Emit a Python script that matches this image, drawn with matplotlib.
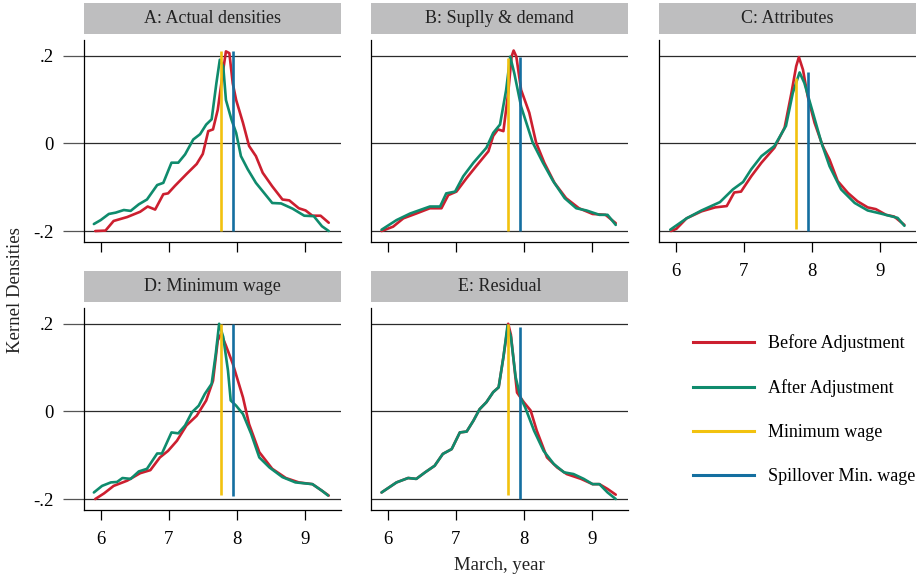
import matplotlib
matplotlib.use("Agg")
import matplotlib.pyplot as plt
from matplotlib.lines import Line2D

plt.rcParams["font.family"] = ["Liberation Serif", "DejaVu Serif"]

# panel titles
titles = ["A: Actual densities", "B: Suplly & demand", "C: Attributes",
          "D: Minimum wage", "E: Residual"]

# A: actual densities
a_before_x = [5.92, 6.07, 6.19, 6.39, 6.58, 6.69, 6.80, 6.92, 6.99, 7.09, 7.26, 7.41, 7.50,
              7.58, 7.65, 7.72, 7.80, 7.84, 7.89, 7.94, 7.99, 8.09, 8.18, 8.28, 8.38, 8.52,
              8.67, 8.77, 8.91, 9.01, 9.11, 9.23, 9.35]
a_before_y = [-0.200, -0.199, -0.177, -0.168, -0.156, -0.144, -0.151, -0.116, -0.114, -0.097,
              -0.070, -0.047, -0.024, 0.028, 0.032, 0.077, 0.168, 0.210, 0.206, 0.137, 0.099,
              0.047, -0.006, -0.029, -0.067, -0.098, -0.128, -0.130, -0.148, -0.153, -0.165,
              -0.165, -0.181]
a_after_x = [5.90, 6.00, 6.12, 6.22, 6.34, 6.44, 6.56, 6.68, 6.83, 6.92, 7.04, 7.14, 7.24,
             7.36, 7.46, 7.55, 7.63, 7.70, 7.75, 7.80, 7.84, 7.92, 7.99, 8.06, 8.16, 8.28,
             8.40, 8.52, 8.65, 8.82, 8.99, 9.13, 9.25, 9.35]
a_after_y = [-0.184, -0.175, -0.161, -0.158, -0.152, -0.154, -0.139, -0.128, -0.095, -0.090,
             -0.044, -0.044, -0.025, 0.009, 0.021, 0.043, 0.055, 0.138, 0.191, 0.176, 0.099,
             0.055, 0.024, -0.029, -0.059, -0.090, -0.113, -0.136, -0.137, -0.149, -0.165,
             -0.166, -0.189, -0.200]

# B: supply & demand
b_before_x = [5.91, 6.08, 6.23, 6.42, 6.62, 6.79, 6.89, 7.01, 7.16, 7.30, 7.48, 7.55, 7.62,
              7.70, 7.77, 7.82, 7.85, 7.89, 7.96, 8.08, 8.18, 8.30, 8.45, 8.62, 8.81, 9.01,
              9.20, 9.35]
b_before_y = [-0.200, -0.190, -0.171, -0.160, -0.148, -0.148, -0.118, -0.110, -0.079, -0.052,
              -0.018, 0.017, 0.032, 0.028, 0.115, 0.198, 0.212, 0.198, 0.122, 0.070, 0.002,
              -0.044, -0.090, -0.125, -0.148, -0.161, -0.163, -0.182]
b_after_x = [5.91, 6.13, 6.33, 6.62, 6.77, 6.86, 6.99, 7.11, 7.26, 7.45, 7.55, 7.65, 7.74,
             7.80, 7.86, 7.96, 8.13, 8.28, 8.43, 8.60, 8.77, 8.92, 9.11, 9.23, 9.35]
b_after_y = [-0.197, -0.175, -0.160, -0.144, -0.144, -0.114, -0.110, -0.075, -0.044, -0.010,
             0.024, 0.043, 0.122, 0.198, 0.160, 0.084, 0.002, -0.044, -0.086, -0.125, -0.148,
             -0.153, -0.163, -0.163, -0.186]

# C: attributes
c_before_x = [5.93, 6.01, 6.16, 6.38, 6.58, 6.75, 6.86, 6.96, 7.11, 7.26, 7.45, 7.60, 7.70,
              7.77, 7.81, 7.87, 7.94, 8.04, 8.16, 8.26, 8.38, 8.53, 8.67, 8.82, 8.94, 9.09,
              9.21, 9.36]
c_before_y = [-0.200, -0.195, -0.171, -0.155, -0.146, -0.143, -0.112, -0.110, -0.075, -0.044,
              -0.010, 0.036, 0.115, 0.176, 0.197, 0.168, 0.107, 0.047, -0.006, -0.037, -0.086,
              -0.113, -0.132, -0.146, -0.150, -0.163, -0.167, -0.186]
c_after_x = [5.92, 6.16, 6.38, 6.65, 6.84, 6.99, 7.11, 7.26, 7.45, 7.62, 7.72, 7.82, 7.89,
             7.99, 8.14, 8.26, 8.43, 8.63, 8.82, 9.01, 9.16, 9.26, 9.36]
c_after_y = [-0.197, -0.171, -0.153, -0.134, -0.105, -0.088, -0.059, -0.029, -0.006, 0.040,
             0.115, 0.162, 0.138, 0.084, 0.002, -0.052, -0.105, -0.136, -0.153, -0.160,
             -0.166, -0.170, -0.188]

# D: minimum wage
d_before_x = [5.92, 6.05, 6.19, 6.39, 6.58, 6.73, 6.87, 6.99, 7.12, 7.26, 7.41, 7.55, 7.65,
              7.72, 7.77, 7.84, 7.94, 8.09, 8.18, 8.33, 8.52, 8.72, 8.91, 9.11, 9.25, 9.35]
d_before_y = [-0.200, -0.187, -0.170, -0.158, -0.141, -0.134, -0.105, -0.090, -0.067, -0.032,
              -0.010, 0.025, 0.070, 0.162, 0.177, 0.150, 0.109, 0.032, -0.029, -0.093, -0.131,
              -0.152, -0.162, -0.166, -0.181, -0.192]
d_after_x = [5.90, 6.02, 6.15, 6.24, 6.32, 6.44, 6.56, 6.68, 6.83, 6.90, 7.04, 7.14, 7.24,
             7.34, 7.44, 7.53, 7.63, 7.69, 7.74, 7.80, 7.87, 7.91, 7.99, 8.09, 8.21, 8.33,
             8.48, 8.67, 8.86, 9.11, 9.25, 9.34]
d_after_y = [-0.185, -0.170, -0.162, -0.161, -0.152, -0.154, -0.137, -0.131, -0.096, -0.096,
             -0.048, -0.050, -0.032, -0.002, 0.013, 0.040, 0.063, 0.131, 0.200, 0.170, 0.093,
             0.025, 0.013, -0.006, -0.051, -0.105, -0.128, -0.150, -0.162, -0.166, -0.181,
             -0.192]

# E: residual
e_before_x = [5.91, 6.13, 6.30, 6.42, 6.55, 6.69, 6.81, 6.94, 7.06, 7.16, 7.26, 7.35, 7.45,
              7.55, 7.63, 7.70, 7.77, 7.81, 7.90, 8.00, 8.10, 8.19, 8.34, 8.49, 8.63, 8.84,
              9.01, 9.11, 9.23, 9.35]
e_before_y = [-0.185, -0.162, -0.152, -0.154, -0.139, -0.124, -0.097, -0.086, -0.048, -0.046,
              -0.021, 0.005, 0.021, 0.044, 0.055, 0.124, 0.200, 0.175, 0.043, 0.021, 0.002,
              -0.044, -0.105, -0.128, -0.143, -0.154, -0.166, -0.166, -0.177, -0.190]
e_after_x = [5.91, 6.13, 6.30, 6.42, 6.55, 6.69, 6.81, 6.94, 7.06, 7.16, 7.26, 7.35, 7.45,
             7.55, 7.63, 7.70, 7.76, 7.81, 7.88, 7.95, 8.02, 8.15, 8.29, 8.44, 8.59, 8.73,
             8.88, 9.01, 9.11, 9.23, 9.35]
e_after_y = [-0.185, -0.162, -0.152, -0.154, -0.139, -0.124, -0.097, -0.086, -0.048, -0.046,
             -0.021, 0.005, 0.021, 0.044, 0.055, 0.124, 0.196, 0.170, 0.078, 0.032, 0.009,
             -0.044, -0.090, -0.120, -0.139, -0.143, -0.154, -0.166, -0.166, -0.185, -0.200]

before_x = [a_before_x, b_before_x, c_before_x, d_before_x, e_before_x]
before_y = [a_before_y, b_before_y, c_before_y, d_before_y, e_before_y]
after_x = [a_after_x, b_after_x, c_after_x, d_after_x, e_after_x]
after_y = [a_after_y, b_after_y, c_after_y, d_after_y, e_after_y]

# reference wages and the vertical extent of their markers in each panel
min_wage = 7.765
spill_wage = 7.945
min_wage_span = [(-0.200, 0.211), (-0.200, 0.195), (-0.196, 0.150), (-0.190, 0.200), (-0.190, 0.200)]
spill_span = [(-0.200, 0.211), (-0.200, 0.198), (-0.200, 0.162), (-0.192, 0.200), (-0.200, 0.192)]

x_ticks = [6, 7, 8, 9]
y_ticks = [-0.2, 0, 0.2]
y_ticklabels = ["-.2", "0", ".2"]
legend_labels = ["Before Adjustment", "After Adjustment", "Minimum wage", "Spillover Min. wage"]

RED = "#cc1f2f"
GREEN = "#0f8b6d"
YELLOW = "#f2c20f"
BLUE = "#146fa0"
STRIP = "#bebebf"

W, H = 917, 578
fig = plt.figure(figsize=(W / 100, H / 100), dpi=100)

col_left = [84, 371, 659]
row_top = [40, 308]
ax_w, ax_h = 257, 202
strip_gap, strip_h = 6, 31

for i, title in enumerate(titles):
    r, c = divmod(i, 3)
    left = col_left[c]
    top = row_top[r]
    ax = fig.add_axes([left / W, 1 - (top + ax_h) / H, ax_w / W, ax_h / H])

    for yv in y_ticks:
        ax.axhline(yv, color="#2b2b2b", lw=0.9, zorder=1)

    ax.plot(before_x[i], before_y[i], color=RED, lw=1.9, zorder=2,
            solid_joinstyle="round", solid_capstyle="round")
    ax.plot(after_x[i], after_y[i], color=GREEN, lw=1.9, zorder=3,
            solid_joinstyle="round", solid_capstyle="round")
    ax.vlines(min_wage, *min_wage_span[i], color=YELLOW, lw=1.9, zorder=4)
    ax.vlines(spill_wage, *spill_span[i], color=BLUE, lw=1.9, zorder=4)

    ax.set_xlim(5.755, 9.53)
    ax.set_ylim(-0.225, 0.236)
    for s in ["top", "right"]:
        ax.spines[s].set_visible(False)
    for s in ["left", "bottom"]:
        ax.spines[s].set_linewidth(0.9)

    ax.set_xticks(x_ticks)
    ax.tick_params(axis="x", length=7, width=0.9, labelsize=13.5, pad=8)
    show_xlab = (r == 1) or (c == 2)
    if not show_xlab:
        ax.set_xticklabels([])
    if c == 0:
        ax.set_yticks(y_ticks)
        ax.set_yticklabels(y_ticklabels)
        ax.tick_params(axis="y", length=15, width=0.9, color="#555555", labelsize=13.5, pad=7)
    else:
        ax.set_yticks([])

    # gray title strip
    sax = fig.add_axes([left / W, 1 - (top - strip_gap) / H, ax_w / W, strip_h / H])
    sax.set_facecolor(STRIP)
    sax.set_xticks([])
    sax.set_yticks([])
    for s in sax.spines.values():
        s.set_visible(False)
    sax.text(0.5, 0.5, title, ha="center", va="center", fontsize=13, color="#222222",
             transform=sax.transAxes)

fig.text(16 / W, 1 - 290 / H, "Kernel Densities", rotation=90, ha="center", va="center",
         fontsize=13.5, color="#222222")
fig.text(499 / W, 1 - 565 / H, "March, year", ha="center", va="center", fontsize=13.5,
         color="#222222")

handles = [Line2D([], [], color=col, lw=2.2) for col in [RED, GREEN, YELLOW, BLUE]]
fig.legend(handles, legend_labels, loc="center left", bbox_to_anchor=(693 / W, 1 - 409.5 / H),
           frameon=False, fontsize=13, handlelength=3.4, handletextpad=0.75,
           labelspacing=1.5, borderpad=0, borderaxespad=0)

fig.savefig("out.png", dpi=100)
